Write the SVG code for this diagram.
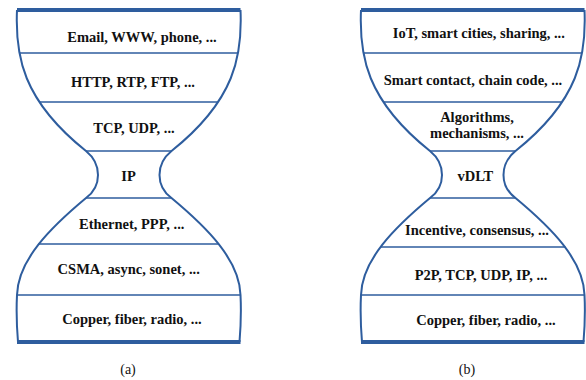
<svg xmlns="http://www.w3.org/2000/svg" width="586" height="380" viewBox="0 0 586 380">
<style>
.outline{fill:none;stroke:#2E5D9E;stroke-width:2}
.sep{stroke:#2E5D9E;stroke-width:1.6}
.cap{stroke:#2E5D9E;stroke-width:4}
.lbl{font-family:"Liberation Serif","Times New Roman",serif;font-weight:bold;font-size:14.5px;fill:#111;text-anchor:middle}
.sub{font-family:"Liberation Serif","Times New Roman",serif;font-size:14px;fill:#111;text-anchor:middle}
</style>
<defs>
<g id="shape">
<path class="outline" d="M 17 10 C 15 55, 22 100, 86 151 C 102 164, 102 186, 86 198 C 50 228, 18 260, 17 295 C 16 315, 17 330, 18 342"/>
<path class="outline" d="M 240.5 10 C 242.5 55, 235.5 100, 171.5 151 C 155.5 164, 155.5 186, 171.5 198 C 207.5 228, 239.5 260, 240.5 295 C 241.5 315, 240.5 330, 239.5 342"/>
<line class="cap" x1="17" y1="10" x2="240.5" y2="10"/>
<line class="cap" x1="17" y1="342" x2="240.5" y2="342"/>
<line class="sep" x1="20" y1="53" x2="237.5" y2="53"/>
<line class="sep" x1="40" y1="102" x2="217.5" y2="102"/>
<line class="sep" x1="86" y1="151" x2="171.5" y2="151"/>
<line class="sep" x1="86" y1="198" x2="171.5" y2="198"/>
<line class="sep" x1="17" y1="295" x2="240.5" y2="295"/>
</g>
</defs>
<g id="hourglass-a">
<use href="#shape"/>
<line class="sep" x1="38.4" y1="244" x2="219" y2="244"/>
</g>
<g id="hourglass-b">
<use href="#shape" transform="translate(344,0)"/>
<line class="sep" x1="380" y1="247" x2="565.5" y2="247"/>
</g>
<g id="a-layer1"><text class="lbl" x="142" y="41.5">Email, WWW, phone, ...</text></g>
<g id="a-layer2"><text class="lbl" x="133" y="87">HTTP, RTP, FTP, ...</text></g>
<g id="a-layer3"><text class="lbl" x="134" y="133">TCP, UDP, ...</text></g>
<g id="a-layer4"><text class="lbl" x="128.5" y="180.5">IP</text></g>
<g id="a-layer5"><text class="lbl" x="131.7" y="229">Ethernet, PPP, ...</text></g>
<g id="a-layer6"><text class="lbl" x="128.7" y="273.5">CSMA, async, sonet, ...</text></g>
<g id="a-layer7"><text class="lbl" x="132" y="324">Copper, fiber, radio, ...</text></g>
<g id="a-caption"><text class="sub" x="128" y="374">(a)</text></g>
<g id="b-layer1"><text class="lbl" x="478.8" y="38">IoT, smart cities, sharing, ...</text></g>
<g id="b-layer2"><text class="lbl" x="473" y="85">Smart contact, chain code, ...</text></g>
<g id="b-layer3"><text class="lbl" x="477" y="121.7">Algorithms,</text><text class="lbl" x="477" y="137.5">mechanisms, ...</text></g>
<g id="b-layer4"><text class="lbl" x="475.3" y="180.5">vDLT</text></g>
<g id="b-layer5"><text class="lbl" x="477" y="234.5">Incentive, consensus, ...</text></g>
<g id="b-layer6"><text class="lbl" x="481" y="280">P2P, TCP, UDP, IP, ...</text></g>
<g id="b-layer7"><text class="lbl" x="486" y="324.5">Copper, fiber, radio, ...</text></g>
<g id="b-caption"><text class="sub" x="467" y="374">(b)</text></g>
</svg>
